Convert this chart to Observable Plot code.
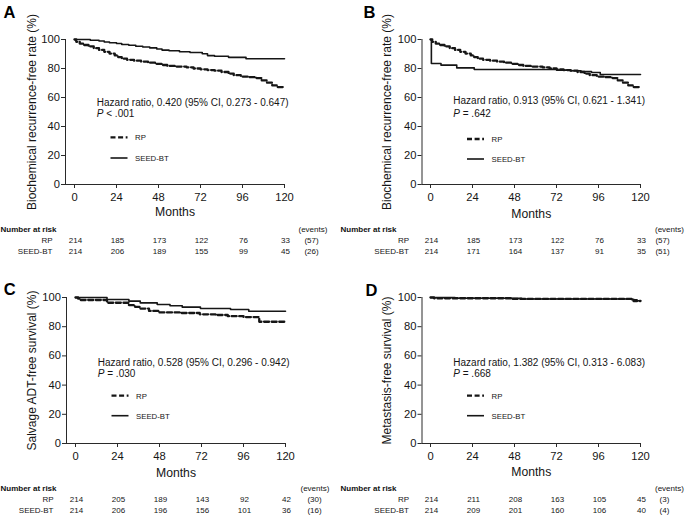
<!DOCTYPE html>
<html><head><meta charset="utf-8">
<script src="https://cdn.jsdelivr.net/npm/d3@7"></script>
<script src="https://cdn.jsdelivr.net/npm/@observablehq/plot@0.6"></script>
<style>
body{margin:0;background:#fff;}
#wrap{position:relative;width:685px;height:515px;overflow:hidden;font-family:"Liberation Sans",Arial,sans-serif;}
#wrap svg{position:absolute;overflow:visible;}
</style></head><body><div id="wrap"></div>
<script>
// ---------- data ----------
const monthTicks = [0, 24, 48, 72, 96, 120];
const yTicks = [0, 20, 40, 60, 80, 100];
const groups = ["RP", "SEED-BT"];
const panelLetters = ["A", "B", "C", "D"];
const yTitles = [
  "Biochemical recurrence-free rate (%)",
  "Biochemical recurrence-free rate (%)",
  "Salvage ADT-free survival (%)",
  "Metastasis-free survival (%)"
];
const hazardTexts = [
  "Hazard ratio, 0.420 (95% CI, 0.273 - 0.647)",
  "Hazard ratio, 0.913 (95% CI, 0.621 - 1.341)",
  "Hazard ratio, 0.528 (95% CI, 0.296 - 0.942)",
  "Hazard ratio, 1.382 (95% CI, 0.313 - 6.083)"
];
const pTexts = ["P < .001", "P = .642", "P = .030", "P = .668"];

// Kaplan-Meier step points (month, survival %)
const rpBcrMonths = [0, 1, 3, 5, 8, 11, 14, 17, 20, 23, 25, 27, 30, 34, 38, 42, 46, 50, 53, 58, 64, 68, 72, 76, 80, 84, 88, 91, 95, 100, 104, 107, 110, 113, 116, 120];
const rpBcrSurv   = [100, 98.4, 97.2, 96.2, 95.2, 94.0, 92.8, 91.5, 90.3, 89.0, 87.8, 86.8, 86.0, 85.4, 84.8, 84.0, 83.2, 82.4, 81.8, 81.3, 80.8, 80.0, 79.4, 78.9, 78.5, 77.6, 76.4, 75.4, 74.4, 74.0, 73.4, 71.8, 70.2, 68.3, 67.2, 67.2];
const seedBcrAMonths = [0, 9, 14, 17, 20, 24, 27, 31, 35, 39, 43, 47, 50, 54, 60, 66, 73, 76, 80, 88, 98, 120];
const seedBcrASurv   = [100, 99.5, 99.0, 98.3, 97.8, 97.2, 96.6, 96.0, 95.3, 94.8, 94.2, 93.4, 92.7, 92.2, 91.6, 91.0, 90.2, 88.9, 88.4, 87.7, 86.7, 86.7];
const seedBcrBMonths = [0, 0.5, 6, 15, 25, 72, 80, 86, 92, 97, 120];
const seedBcrBSurv   = [100, 83.4, 82.3, 80.4, 79.3, 78.9, 78.5, 77.9, 77.2, 75.9, 75.9];
const rpAdtMonths = [0, 1.5, 3, 18, 30.5, 34, 37, 42, 48, 60, 71, 80, 87, 96, 105, 120];
const rpAdtSurv   = [100, 99.2, 98.3, 96.4, 94.8, 93.6, 92.4, 90.8, 89.8, 89.4, 88.5, 88.0, 87.2, 86.6, 83.4, 83.4];
const seedAdtMonths = [0, 18, 30.5, 37, 46.7, 54, 61, 71.4, 88.6, 99, 120];
const seedAdtSurv   = [100, 98.6, 97.5, 96.3, 95.2, 94.3, 93.4, 92.5, 91.8, 90.6, 90.6];
const rpMetMonths = [0, 2, 46, 116, 120];
const rpMetSurv   = [100, 99.5, 99.0, 97.6, 97.6];
const seedMetMonths = [0, 14, 52, 115, 118, 120];
const seedMetSurv   = [100, 99.5, 99.0, 98.5, 97.8, 97.8];

// numbers at risk at 0, 24, 48, 72, 96, 120 months
const riskRP   = [[214, 185, 173, 122, 76, 33], [214, 185, 173, 122, 76, 33], [214, 205, 189, 143, 92, 42], [214, 211, 208, 163, 105, 45]];
const riskSEED = [[214, 206, 189, 155, 99, 45], [214, 171, 164, 137, 91, 35], [214, 206, 196, 156, 101, 36], [214, 209, 201, 160, 106, 40]];
const eventsRP   = ["(57)", "(57)", "(30)", "(3)"];
const eventsSEED = ["(26)", "(51)", "(16)", "(4)"];

// ---------- layout ----------
const layouts = [
  {left: 0,   top: 0,   width: 340, height: 256, mL: 65,   mR: 56, mT: 39, mB: 72, inset: 9,
   letter: [-62, -26.5], yTitleDx: -33, monthsDy: 28, hz: 63, p: 74.4, leg: [98.4, 119], evDx: 27, evHdDx: 14},
  {left: 340, top: 0,   width: 345, height: 256, mL: 81.5, mR: 45, mT: 39, mB: 72, inset: 8.5,
   letter: [-58.5, -26.5], yTitleDx: -34.5, monthsDy: 30, hz: 61, p: 74, leg: [100, 120], evDx: 22, evHdDx: 14.5},
  {left: 0,   top: 258, width: 340, height: 257, mL: 66,   mR: 55, mT: 39, mB: 72, inset: 9,
   letter: [-62.7, -8], yTitleDx: -34, monthsDy: 30, hz: 65.4, p: 76, leg: [98.7, 118.7], evDx: 29, evHdDx: 15},
  {left: 340, top: 258, width: 345, height: 257, mL: 81.5, mR: 45, mT: 39, mB: 72, inset: 8.5,
   letter: [-56.5, -7], yTitleDx: -35, monthsDy: 29, hz: 65.4, p: 76, leg: [98.7, 118.7], evDx: 24, evHdDx: 14.5}
];

const curves = [
  [rpBcrMonths, rpBcrSurv, seedBcrAMonths, seedBcrASurv],
  [rpBcrMonths, rpBcrSurv, seedBcrBMonths, seedBcrBSurv],
  [rpAdtMonths, rpAdtSurv, seedAdtMonths, seedAdtSurv],
  [rpMetMonths, rpMetSurv, seedMetMonths, seedMetSurv]
];

const INK = "#161616";
const TXT = "#151515";
const DASH = "5,2.6";
const zip = (t, s) => t.map((m, i) => ({month: m, surv: s[i]}));

function legendLines(rows) {
  return (index, scales, values, dims) => {
    const g = d3.create("svg:g");
    rows.forEach(r => {
      g.append("line")
        .attr("x1", dims.marginLeft + 45.5).attr("x2", dims.marginLeft + 62.5)
        .attr("y1", dims.marginTop + r.dy).attr("y2", dims.marginTop + r.dy)
        .attr("stroke", INK).attr("stroke-width", r.w)
        .attr("stroke-dasharray", r.dash);
    });
    return g.node();
  };
}

const wrap = document.getElementById("wrap");

layouts.forEach((L, k) => {
  const [rpT, rpS, sdT, sdS] = curves[k];
  const rp = zip(rpT, rpS);
  const sd = zip(sdT, sdS);
  const fs = 8;
  const rowDy = [55.5, 66.5];
  const svg = Plot.plot({
    width: L.width, height: L.height,
    marginLeft: L.mL, marginRight: L.mR, marginTop: L.mT, marginBottom: L.mB,
    style: {fontFamily: "'Liberation Sans', Arial, sans-serif", color: TXT, background: "transparent", overflow: "visible"},
    x: {domain: [0, 120], insetLeft: L.inset},
    y: {domain: [0, 100]},
    marks: [
      Plot.frame({anchor: "left", stroke: "#2a2a2a", strokeWidth: 1}),
      Plot.frame({anchor: "bottom", stroke: "#2a2a2a", strokeWidth: 1}),
      Plot.axisX({ticks: monthTicks, tickSize: 4, tickPadding: 5, fontSize: 11.2, label: null, stroke: "#2a2a2a"}),
      Plot.axisY({ticks: yTicks, tickSize: 4, tickPadding: 1.5, fontSize: 11.2, label: null, stroke: "#2a2a2a"}),
      Plot.line(rp, {x: "month", y: "surv", curve: "step-after", stroke: INK, strokeWidth: 2.3, strokeDasharray: DASH}),
      Plot.line(sd, {x: "month", y: "surv", curve: "step-after", stroke: INK, strokeWidth: 1.6}),
      // panel letter
      Plot.text([panelLetters[k]], {frameAnchor: "top-left", dx: L.letter[0], dy: L.letter[1], textAnchor: "start", lineAnchor: "middle", fontSize: 16.5, fontWeight: "bold", fill: "#000"}),
      // axis titles
      Plot.text([yTitles[k]], {frameAnchor: "left", dx: L.yTitleDx, rotate: -90, textAnchor: "middle", lineAnchor: "middle", fontSize: 12, fill: TXT}),
      Plot.text(["Months"], {frameAnchor: "bottom", dy: L.monthsDy, textAnchor: "middle", lineAnchor: "middle", fontSize: 12.2, fill: TXT}),
      // hazard annotation
      Plot.text([hazardTexts[k]], {frameAnchor: "top-left", dx: 31.3, dy: L.hz, textAnchor: "start", lineAnchor: "middle", fontSize: 10, fill: TXT}),
      Plot.text([pTexts[k]], {frameAnchor: "top-left", dx: 31.3, dy: L.p, textAnchor: "start", lineAnchor: "middle", fontSize: 10, fill: TXT}),
      // legend
      legendLines([{dy: L.leg[0], w: 2.3, dash: DASH}, {dy: L.leg[1], w: 1.6, dash: null}]),
      Plot.text([groups[0]], {frameAnchor: "top-left", dx: 69.5, dy: L.leg[0], textAnchor: "start", lineAnchor: "middle", fontSize: 7.8, fill: TXT}),
      Plot.text([groups[1]], {frameAnchor: "top-left", dx: 69.5, dy: L.leg[1], textAnchor: "start", lineAnchor: "middle", fontSize: 7.8, fill: TXT}),
      // risk table
      Plot.text(["Number at risk"], {frameAnchor: "bottom-left", dx: -L.mL, dy: 44.5, textAnchor: "start", lineAnchor: "middle", fontSize: fs, fontWeight: "bold", fill: "#111"}),
      Plot.text(["(events)"], {frameAnchor: "bottom-right", dx: L.evHdDx, dy: 44.5, textAnchor: "start", lineAnchor: "middle", fontSize: fs, fill: TXT}),
      Plot.text([groups[0]], {frameAnchor: "bottom-left", dx: -13, dy: rowDy[0], textAnchor: "end", lineAnchor: "middle", fontSize: fs, fill: TXT}),
      Plot.text([groups[1]], {frameAnchor: "bottom-left", dx: -13, dy: rowDy[1], textAnchor: "end", lineAnchor: "middle", fontSize: fs, fill: TXT}),
      Plot.text(monthTicks, {x: d => d, text: (d, i) => String(riskRP[k][i]), frameAnchor: "bottom", dx: 1, dy: rowDy[0], textAnchor: "middle", lineAnchor: "middle", fontSize: fs, fill: TXT}),
      Plot.text(monthTicks, {x: d => d, text: (d, i) => String(riskSEED[k][i]), frameAnchor: "bottom", dx: 1, dy: rowDy[1], textAnchor: "middle", lineAnchor: "middle", fontSize: fs, fill: TXT}),
      Plot.text([eventsRP[k]], {frameAnchor: "bottom-right", dx: L.evDx, dy: rowDy[0], textAnchor: "middle", lineAnchor: "middle", fontSize: fs, fill: TXT}),
      Plot.text([eventsSEED[k]], {frameAnchor: "bottom-right", dx: L.evDx, dy: rowDy[1], textAnchor: "middle", lineAnchor: "middle", fontSize: fs, fill: TXT})
    ]
  });
  // italicise the "P" of the P-value line, keeping it as real text
  svg.querySelectorAll("text").forEach(t => {
    const s = t.textContent;
    if (/^P [<=] /.test(s) && t.children.length === 0) {
      t.textContent = "";
      const a = document.createElementNS("http://www.w3.org/2000/svg", "tspan");
      a.setAttribute("font-style", "italic");
      a.textContent = "P";
      const b = document.createElementNS("http://www.w3.org/2000/svg", "tspan");
      b.textContent = s.slice(1);
      t.appendChild(a); t.appendChild(b);
    }
  });
  svg.style.left = L.left + "px";
  svg.style.top = L.top + "px";
  wrap.appendChild(svg);
});
</script>
</body></html>
